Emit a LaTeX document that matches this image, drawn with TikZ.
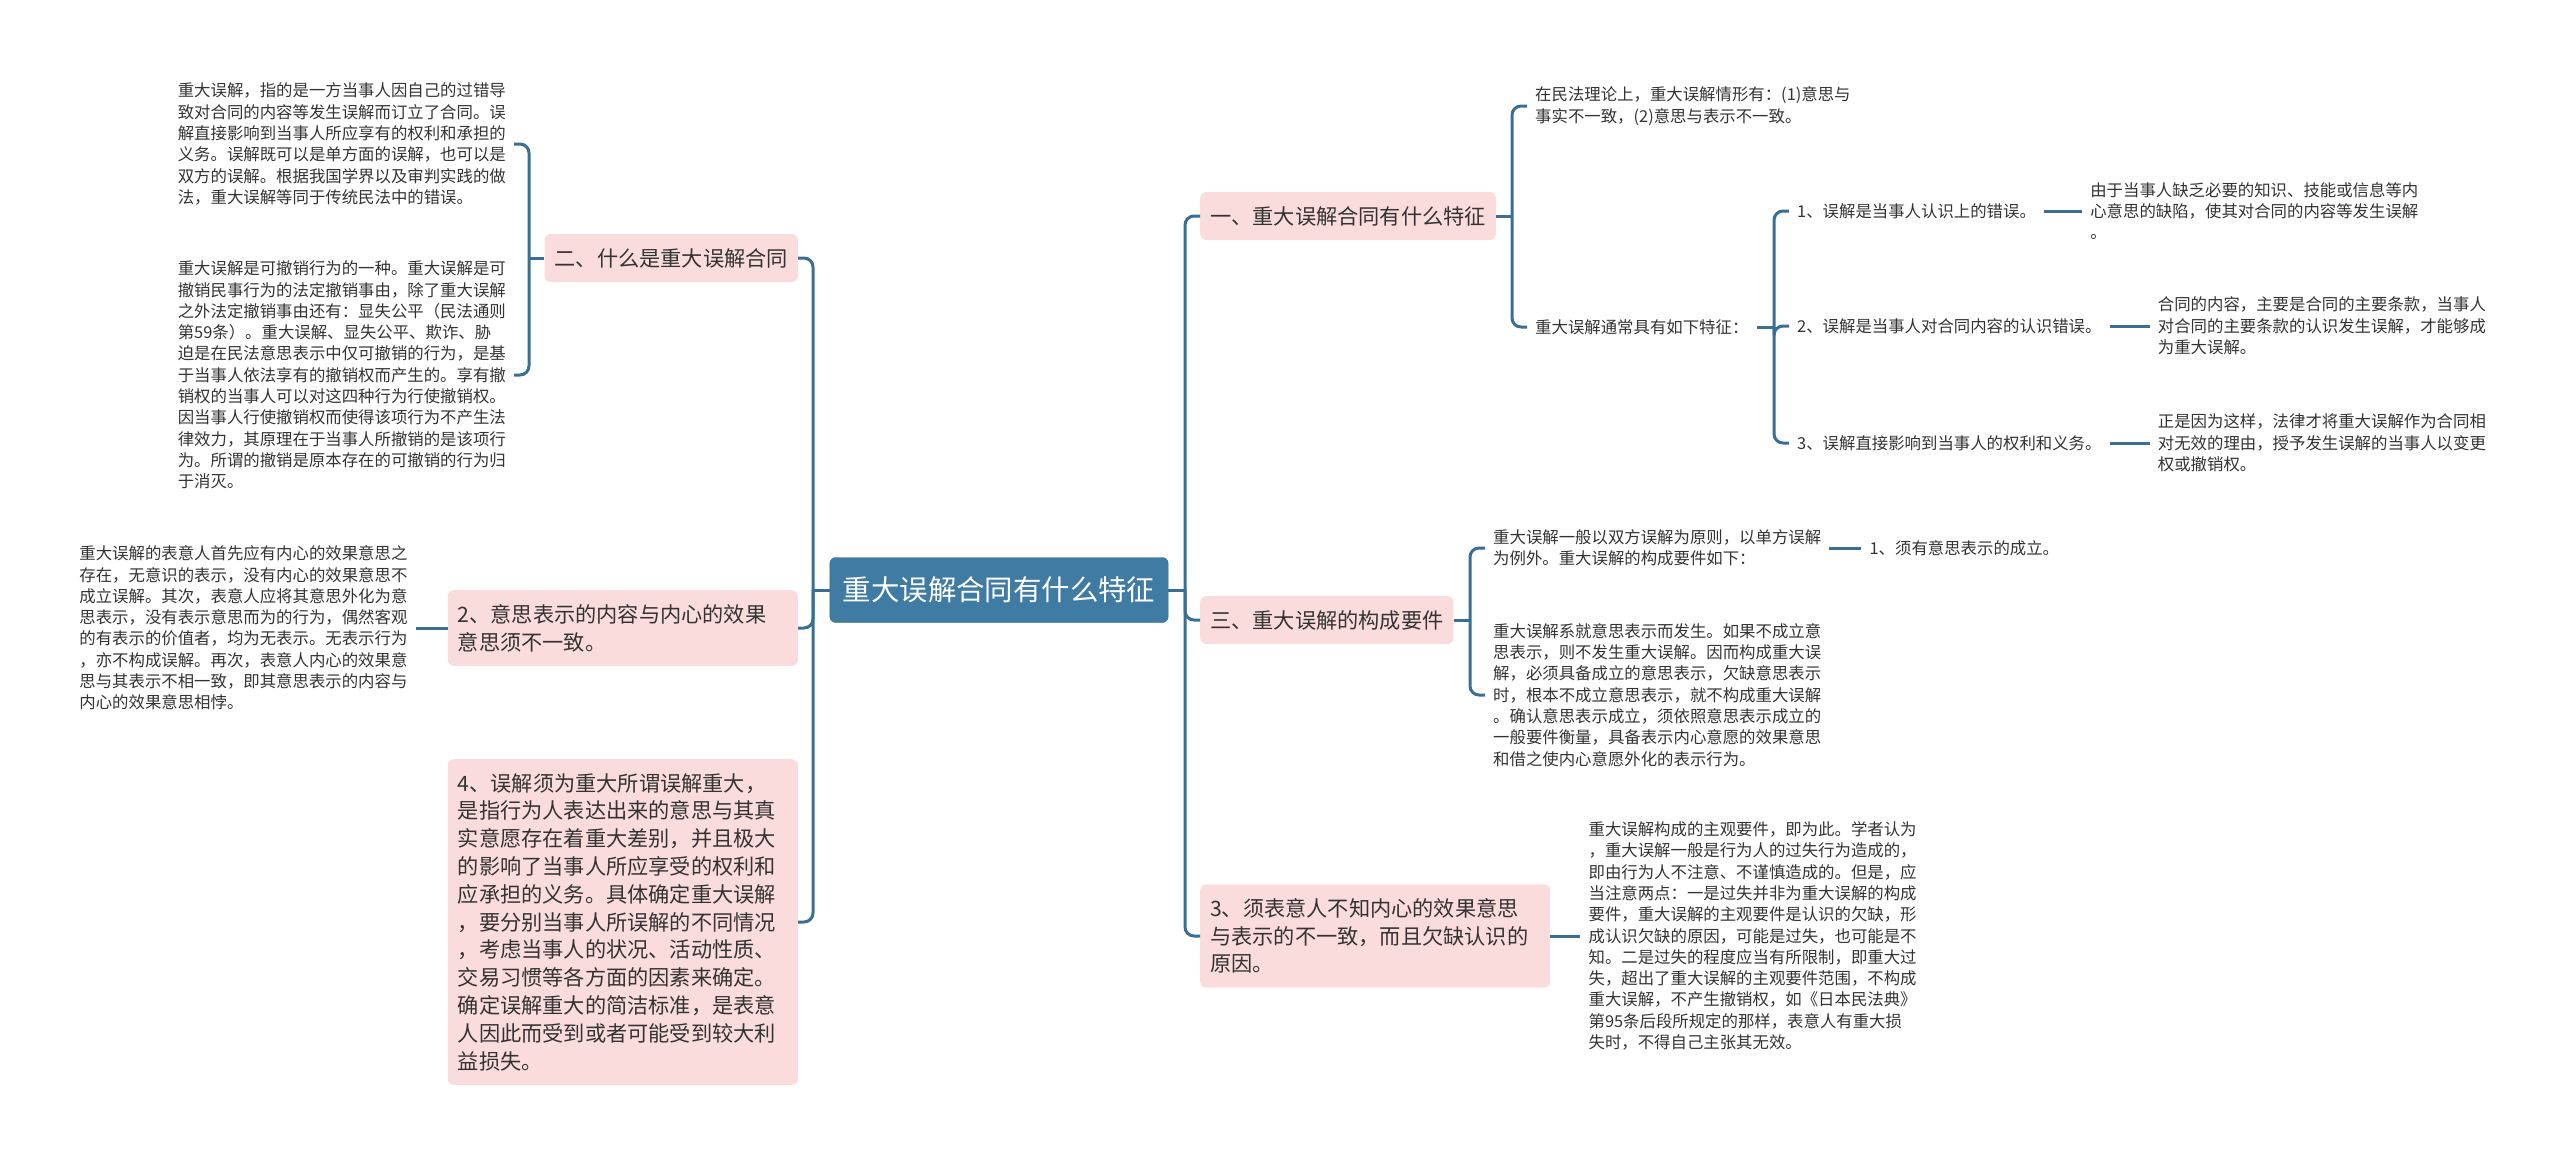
\documentclass[tikz,border=0pt]{standalone}
\usepackage{fontspec}
\setmainfont{Noto Sans CJK SC}
\usetikzlibrary{positioning}

\definecolor{rootblue}{HTML}{3F7BA3}
\definecolor{linkblue}{HTML}{3A6F95}
\definecolor{topicpink}{HTML}{FADCDC}
\definecolor{inkgray}{HTML}{333333}

\begin{document}
\begin{tikzpicture}[
        x=1pt, y=-1pt,
        % Testo scuro di default
        every node/.style={text=inkgray},
        % Nodo centrale
        root/.style={fill=rootblue, draw=rootblue!85!black, rounded corners=6pt, text=white, font=\fontsize{28.4}{34}\selectfont, inner xsep=13pt, minimum height=65pt},
        % Rami principali (rosa)
        topic/.style={fill=topicpink, rounded corners=6pt, font=\fontsize{21.2}{27.8}\selectfont, inner xsep=10pt, inner ysep=13pt, minimum height=48pt, align=left},
        longtopic/.style={topic, text width=330pt, inner ysep=14pt},
        % Testi senza riquadro
        note/.style={font=\fontsize{16.4}{21.3}\selectfont, align=left, inner sep=8pt},
        % Collegamenti
        link/.style={draw=linkblue, line width=3pt, rounded corners=9pt}
    ]
    \useasboundingbox (0,0) rectangle (2560,1160);

    % --- ROOT ---
    \node[root] (root) at (999,590) {重大误解合同有什么特征};
    \coordinate (rightTrunk) at (1185,590);
    \coordinate (leftTrunk) at (813,590);

    % --- RIGHT SIDE ---
    \node[topic, anchor=west] (secOne) at (1200,216) {一、重大误解合同有什么特征};
    \node[topic, anchor=west] (secThree) at (1200,620) {三、重大误解的构成要件};
    \node[longtopic, anchor=west] (reqThree) at (1200,936) {3、须表意人不知内心的效果意思\\与表示的不一致，而且欠缺认识的\\原因。};

    % secOne children
    \coordinate (oneFork) at (1512,216);
    \node[note, anchor=west] (theory) at (1527,106) {在民法理论上，重大误解情形有：(1)意思与\\事实不一致，(2)意思与表示不一致。};
    \node[note, anchor=west] (feature) at (1527,327) {重大误解通常具有如下特征：};
    \coordinate (featFork) at (1774,327);
    \node[note, anchor=west] (featOne) at (1789,211) {1、误解是当事人认识上的错误。};
    \node[note, anchor=west] (featTwo) at (1789,326) {2、误解是当事人对合同内容的认识错误。};
    \node[note, anchor=west] (featThree) at (1789,443) {3、误解直接影响到当事人的权利和义务。};
    \node[note, right=38pt of featOne] (featOneNote) {由于当事人缺乏必要的知识、技能或信息等内\\心意思的缺陷，使其对合同的内容等发生误解\\。};
    \node[note, right=40pt of featTwo] (featTwoNote) {合同的内容，主要是合同的主要条款，当事人\\对合同的主要条款的认识发生误解，才能够成\\为重大误解。};
    \node[note, right=40pt of featThree] (featThreeNote) {正是因为这样，法律才将重大误解作为合同相\\对无效的理由，授予发生误解的当事人以变更\\权或撤销权。};

    % secThree children
    \coordinate (threeFork) at (1470,620);
    \node[note, anchor=west] (reqIntro) at (1485,548) {重大误解一般以双方误解为原则，以单方误解\\为例外。重大误解的构成要件如下：};
    \node[note, right=32pt of reqIntro] (reqOne) {1、须有意思表示的成立。};
    \node[note, anchor=west] (reqNote) at (1485,695) {重大误解系就意思表示而发生。如果不成立意\\思表示，则不发生重大误解。因而构成重大误\\解，必须具备成立的意思表示，欠缺意思表示\\时，根本不成立意思表示，就不构成重大误解\\。确认意思表示成立，须依照意思表示成立的\\一般要件衡量，具备表示内心意愿的效果意思\\和借之使内心意愿外化的表示行为。};
    \node[note, right=30pt of reqThree] (threeNote) {重大误解构成的主观要件，即为此。学者认为\\，重大误解一般是行为人的过失行为造成的，\\即由行为人不注意、不谨慎造成的。但是，应\\当注意两点：一是过失并非为重大误解的构成\\要件，重大误解的主观要件是认识的欠缺，形\\成认识欠缺的原因，可能是过失，也可能是不\\知。二是过失的程度应当有所限制，即重大过\\失，超出了重大误解的主观要件范围，不构成\\重大误解，不产生撤销权，如《日本民法典》\\第95条后段所规定的那样，表意人有重大损\\失时，不得自己主张其无效。};

    % --- LEFT SIDE ---
    \node[topic, anchor=east] (secTwo) at (798,258) {二、什么是重大误解合同};
    \node[longtopic, anchor=east] (reqTwo) at (798,628) {2、意思表示的内容与内心的效果\\意思须不一致。};
    \node[longtopic, anchor=east] (reqFour) at (798,922) {4、误解须为重大所谓误解重大，\\是指行为人表达出来的意思与其真\\实意愿存在着重大差别，并且极大\\的影响了当事人所应享受的权利和\\应承担的义务。具体确定重大误解\\，要分别当事人所误解的不同情况\\，考虑当事人的状况、活动性质、\\交易习惯等各方面的因素来确定。\\确定误解重大的简洁标准，是表意\\人因此而受到或者可能受到较大利\\益损失。};

    % secTwo children
    \coordinate (twoFork) at (529,258);
    \node[note, anchor=east] (defNote) at (514,144) {重大误解，指的是一方当事人因自己的过错导\\致对合同的内容等发生误解而订立了合同。误\\解直接影响到当事人所应享有的权利和承担的\\义务。误解既可以是单方面的误解，也可以是\\双方的误解。根据我国学界以及审判实践的做\\法，重大误解等同于传统民法中的错误。};
    \node[note, anchor=east] (revNote) at (514,375) {重大误解是可撤销行为的一种。重大误解是可\\撤销民事行为的法定撤销事由，除了重大误解\\之外法定撤销事由还有：显失公平（民法通则\\第59条）。重大误解、显失公平、欺诈、胁\\迫是在民法意思表示中仅可撤销的行为，是基\\于当事人依法享有的撤销权而产生的。享有撤\\销权的当事人可以对这四种行为行使撤销权。\\因当事人行使撤销权而使得该项行为不产生法\\律效力，其原理在于当事人所撤销的是该项行\\为。所谓的撤销是原本存在的可撤销的行为归\\于消灭。};
    \node[note, left=32pt of reqTwo] (twoNote) {重大误解的表意人首先应有内心的效果意思之\\存在，无意识的表示，没有内心的效果意思不\\成立误解。其次，表意人应将其意思外化为意\\思表示，没有表示意思而为的行为，偶然客观\\的有表示的价值者，均为无表示。无表示行为\\，亦不构成误解。再次，表意人内心的效果意\\思与其表示不相一致，即其意思表示的内容与\\内心的效果意思相悖。};

    % --- Connections ---
    \draw[link] (root.east) -- (rightTrunk);
    \draw[link] (rightTrunk) |- (secOne.west);
    \draw[link] (rightTrunk) |- (secThree.west);
    \draw[link] (rightTrunk) |- (reqThree.west);
    \draw[link] (root.west) -- (leftTrunk);
    \draw[link] (leftTrunk) |- (secTwo.east);
    \draw[link] (leftTrunk) |- (reqTwo.east);
    \draw[link] (leftTrunk) |- (reqFour.east);

    % secOne fork
    \draw[link] (secOne.east) -- (oneFork);
    \draw[link] (oneFork) |- (theory.west);
    \draw[link] (oneFork) |- (feature.west);
    \draw[link] (feature.east) -- (featFork);
    \draw[link] (featFork) |- (featOne.west);
    \draw[link] (featFork) |- (featTwo.west);
    \draw[link] (featFork) |- (featThree.west);
    \draw[link] (featOne.east) -- (featOneNote.west);
    \draw[link] (featTwo.east) -- (featTwoNote.west);
    \draw[link] (featThree.east) -- (featThreeNote.west);

    % secThree fork
    \draw[link] (secThree.east) -- (threeFork);
    \draw[link] (threeFork) |- (reqIntro.west);
    \draw[link] (threeFork) |- (reqNote.west);
    \draw[link] (reqIntro.east) -- (reqOne.west);
    \draw[link] (reqThree.east) -- (threeNote.west);

    % secTwo fork
    \draw[link] (secTwo.west) -- (twoFork);
    \draw[link] (twoFork) |- (defNote.east);
    \draw[link] (twoFork) |- (revNote.east);
    \draw[link] (reqTwo.west) -- (twoNote.east);

\end{tikzpicture}
\end{document}
